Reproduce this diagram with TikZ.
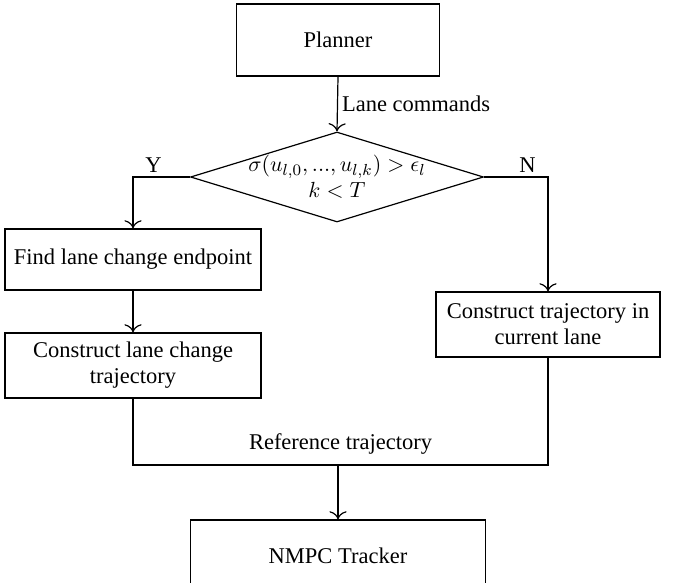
\documentclass[tikz,border=0pt]{standalone}
\usepackage{fontspec}
\setmainfont{Liberation Serif}
\usetikzlibrary{shapes.geometric,arrows.meta}
\begin{document}
\begin{tikzpicture}[x=0.5pt,y=-0.5pt,
  font=\fontsize{11.25}{13}\selectfont,
  box/.style={draw,rectangle,inner sep=0pt,align=center,line width=0.6pt},
  dia/.style={draw,diamond,inner sep=0pt,line width=0.6pt},
  conn/.style={line width=0.6pt},
  >={To[scale=1.4]}]
\useasboundingbox (0,0) rectangle (678,582);
\node[box,minimum width=101.5pt,minimum height=36pt] (plan) at (338,40) {Planner};
\node[dia,minimum width=146.5pt,minimum height=45pt] (dec) at (337,177) {};
\node[align=center,inner sep=0pt] (dect) at (dec.center) {$\sigma(u_{l,0},...,u_{l,k}) > \epsilon_l$\\$k<T$};
\node[box,minimum width=128pt,minimum height=30.5pt] (find) at (133,259.5) {Find lane change endpoint};
\node[box,minimum width=128pt,minimum height=32.5pt] (clc) at (133,365.5) {Construct lane change\\trajectory};
\node[box,minimum width=112pt,minimum height=32.5pt] (ctc) at (548,324.5) {Construct trajectory in\\current lane};
\node[box,minimum width=147.5pt,minimum height=36pt] (nmpc) at (338,556) {NMPC Tracker};
\coordinate (jl) at (133,465);
\coordinate (jr) at (548,465);
\draw[conn,->] (plan.south) -- node[right,inner sep=2pt] {Lane commands} (dec.north);
\draw[conn,->] (dec.west) -| node[pos=0.32,above,inner sep=2pt] {Y} (find.north);
\draw[conn,->] (dec.east) -| node[pos=0.34,above,inner sep=2pt] {N} (ctc.north);
\draw[conn,->] (find.south) -- (clc.north);
\draw[conn] (clc.south) -- (jl) -- node[above,inner sep=5pt] {Reference trajectory} (jr) -- (ctc.south);
\draw[conn,->] (jl -| nmpc.north) -- (nmpc.north);
\end{tikzpicture}
\end{document}
